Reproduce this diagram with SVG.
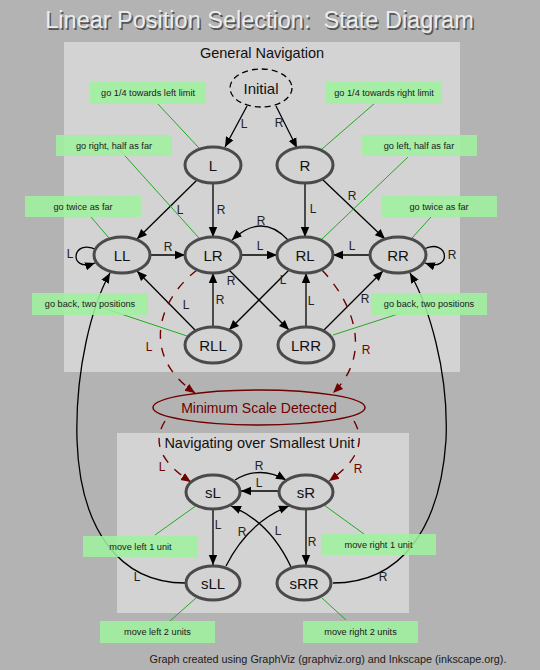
<svg xmlns="http://www.w3.org/2000/svg" width="540" height="670" viewBox="0 0 540 670">
<defs>
<marker id="ab" viewBox="0 0 10 10" refX="10" refY="5" markerWidth="10" markerHeight="10" markerUnits="userSpaceOnUse" orient="auto"><path d="M0,0.8 L10,5 L0,9.2 z" fill="#000"/></marker>
<marker id="ar" viewBox="0 0 10 10" refX="10" refY="5" markerWidth="10" markerHeight="10" markerUnits="userSpaceOnUse" orient="auto"><path d="M0,0.8 L10,5 L0,9.2 z" fill="#6e0000"/></marker>
<style>
.t{font-family:"Liberation Sans",Arial,sans-serif}
.edge{fill:none;stroke:#000;stroke-width:1.3;marker-end:url(#ab)}
.red{fill:none;stroke:#6e0000;stroke-width:1.4;stroke-dasharray:9,9;marker-end:url(#ar)}
.gl{stroke:#22aa22;stroke-width:1;fill:none}
.node ellipse{fill:#d3d3d3;stroke:#4a4a4a;stroke-width:3}
.nl{font-family:"Liberation Sans",Arial,sans-serif;font-size:15px;fill:#111;text-anchor:middle}
.el{font-family:"Liberation Sans",Arial,sans-serif;font-size:12px;fill:#222;text-anchor:middle}
.rl{font-family:"Liberation Sans",Arial,sans-serif;font-size:12px;fill:#6e0000;text-anchor:middle}
.box rect{fill:#9ff09f;fill-opacity:0.88}
.box text{font-family:"Liberation Sans",Arial,sans-serif;font-size:9.2px;fill:#1a1a1a;text-anchor:middle}
.pt{font-family:"Liberation Sans",Arial,sans-serif;font-size:14.5px;fill:#111;text-anchor:middle}
.ttl{font-family:"Liberation Sans",Arial,sans-serif;font-size:23.5px;text-anchor:middle}
</style>
</defs>
<rect x="0" y="0" width="540" height="670" fill="#b3b3b3"/>
<g id="title">
<text class="ttl" x="261" y="29.5" fill="#555" xml:space="preserve">Linear Position Selection:  State Diagram</text>
<text class="ttl" x="259.5" y="28" fill="#ececec" xml:space="preserve">Linear Position Selection:  State Diagram</text>
</g>
<g id="panel-general">
<rect x="64" y="42" width="396" height="330" fill="#d3d3d3"/>
<text class="pt" x="262" y="58">General Navigation</text>
</g>
<g id="panel-smallest">
<rect x="117" y="433" width="292" height="180" fill="#d3d3d3"/>
<text class="pt" x="259.5" y="448">Navigating over Smallest Unit</text>
</g>

<g id="connectors">
<path class="edge" d="M247,106 L225,147"/>
<text class="el" x="244" y="128">L</text>
<path class="edge" d="M276,106 L297,148"/>
<text class="el" x="279" y="127">R</text>
<path class="edge" d="M197,180 L137,239"/>
<text class="el" x="180" y="214">L</text>
<path class="edge" d="M213,183 L213,237"/>
<text class="el" x="221" y="214">R</text>
<path class="edge" d="M305,183 L305,237"/>
<text class="el" x="313" y="213">L</text>
<path class="edge" d="M322,179 L385,239"/>
<text class="el" x="352" y="200">R</text>
<path class="edge" d="M97,250 C72,237 67,273 95,263"/>
<text class="el" x="70" y="258">L</text>
<path class="edge" d="M424,249 C449,237 453,273 425,263"/>
<text class="el" x="452" y="259">R</text>
<path class="edge" d="M150,255 L185,255"/>
<text class="el" x="168" y="251">R</text>
<path class="edge" d="M241,255 L277,255"/>
<text class="el" x="260" y="250">L</text>
<path class="edge" d="M288,240 Q262,212 232,240"/>
<text class="el" x="261" y="225">R</text>
<path class="edge" d="M370,255 L333,255"/>
<text class="el" x="352" y="250">L</text>
<path class="edge" d="M229,270 L289,330"/>
<text class="el" x="231" y="285">R</text>
<path class="edge" d="M289,270 L229,330"/>
<text class="el" x="283" y="284">L</text>
<path class="edge" d="M213,327 L213,273"/>
<text class="el" x="220" y="304">R</text>
<path class="edge" d="M196,331 L137,271"/>
<text class="el" x="186" y="309">L</text>
<path class="edge" d="M306,327 L306,273"/>
<text class="el" x="311" y="305">L</text>
<path class="edge" d="M323,331 L383,271"/>
<text class="el" x="365" y="303">R</text>

<path class="red" d="M197,270 C158,300 140,355 195,393"/>
<text class="rl" x="149" y="351">L</text>
<path class="red" d="M322,270 C355,305 372,355 333,393"/>
<text class="rl" x="366" y="354">R</text>
<path class="red" d="M165,421 C150,445 165,465 191,482"/>
<text class="rl" x="162" y="471">L</text>
<path class="red" d="M354,421 C368,445 352,465 329,481"/>
<text class="rl" x="358" y="473">R</text>

<path class="edge" d="M235,480 Q260,465 286,480"/>
<text class="el" x="259" y="470">R</text>
<path class="edge" d="M279,491 L241,491"/>
<text class="el" x="259" y="487">L</text>
<path class="edge" d="M213,510 L213,565"/>
<text class="el" x="218" y="529">L</text>
<path class="edge" d="M306,510 L306,565"/>
<text class="el" x="312" y="546">R</text>
<path class="edge" d="M226,566 Q248,522 289,506"/>
<text class="el" x="242" y="536">R</text>
<path class="edge" d="M291,567 Q270,522 231,506"/>
<text class="el" x="278" y="535">L</text>

<path class="edge" d="M185,583 C120,583 80,530 77,440 C75,370 92,305 110,273"/>
<text class="el" x="137" y="581">L</text>
<path class="edge" d="M333,583 C400,583 440,530 446,440 C449,370 428,305 410,273"/>
<text class="el" x="383" y="581">R</text>
</g>

<g id="annotation-lines">
<path class="gl" d="M157,103 L199,148"/>
<path class="gl" d="M375,103 L322,149"/>
<path class="gl" d="M117,147 L199,238"/>
<path class="gl" d="M408,157 L322,239"/>
<path class="gl" d="M91,217 L109,238"/>
<path class="gl" d="M431,217 L412,238"/>
<path class="gl" d="M100,307 L187,336"/>
<path class="gl" d="M398,314 L333,335"/>
<path class="gl" d="M155,535 L197,505"/>
<path class="gl" d="M364,534 L324,505"/>
<path class="gl" d="M170,621 L196,598"/>
<path class="gl" d="M346,620 L322,598"/>
</g>

<g id="node-initial"><ellipse cx="261" cy="88" rx="31" ry="19" fill="none" stroke="#000" stroke-width="1.3" stroke-dasharray="6,4"/><text class="nl" x="261" y="93.5">Initial</text></g>
<g id="node-L" class="node"><ellipse cx="213" cy="165" rx="28" ry="18"/><text class="nl" x="213" y="170.5">L</text></g>
<g id="node-R" class="node"><ellipse cx="305" cy="165" rx="28" ry="18"/><text class="nl" x="305" y="170.5">R</text></g>
<g id="node-LL" class="node"><ellipse cx="122" cy="255" rx="28" ry="18"/><text class="nl" x="122" y="260.5">LL</text></g>
<g id="node-LR" class="node"><ellipse cx="213" cy="255" rx="28" ry="18"/><text class="nl" x="213" y="260.5">LR</text></g>
<g id="node-RL" class="node"><ellipse cx="305" cy="255" rx="28" ry="18"/><text class="nl" x="305" y="260.5">RL</text></g>
<g id="node-RR" class="node"><ellipse cx="398" cy="255" rx="28" ry="18"/><text class="nl" x="398" y="260.5">RR</text></g>
<g id="node-RLL" class="node"><ellipse cx="213" cy="345" rx="28" ry="18"/><text class="nl" x="213" y="350.5">RLL</text></g>
<g id="node-LRR" class="node"><ellipse cx="306" cy="345" rx="28" ry="18"/><text class="nl" x="306" y="350.5">LRR</text></g>
<g id="node-min"><ellipse cx="259" cy="407.5" rx="106" ry="17.5" fill="none" stroke="#6e0000" stroke-width="1.5"/><text class="t" x="259" y="412.5" font-size="14" fill="#6e0000" text-anchor="middle">Minimum Scale Detected</text></g>
<g id="node-sL" class="node"><ellipse cx="213" cy="492" rx="27" ry="17"/><text class="nl" x="213" y="497.5">sL</text></g>
<g id="node-sR" class="node"><ellipse cx="306" cy="492" rx="27" ry="17"/><text class="nl" x="306" y="497.5">sR</text></g>
<g id="node-sLL" class="node"><ellipse cx="213" cy="583" rx="27" ry="17"/><text class="nl" x="213" y="588.5">sLL</text></g>
<g id="node-sRR" class="node"><ellipse cx="304" cy="583" rx="27" ry="17"/><text class="nl" x="304" y="588.5">sRR</text></g>

<g id="note-1" class="box"><rect x="90" y="82" width="116" height="22"/><text x="148" y="96.3">go 1/4 towards left limit</text></g>
<g id="note-2" class="box"><rect x="326" y="82" width="116" height="22"/><text x="384" y="96.3">go 1/4 towards right limit</text></g>
<g id="note-3" class="box"><rect x="56" y="135" width="116" height="21"/><text x="114" y="148.8">go right, half as far</text></g>
<g id="note-4" class="box"><rect x="362" y="135" width="115" height="21"/><text x="419" y="148.8">go left, half as far</text></g>
<g id="note-5" class="box"><rect x="25" y="196" width="116" height="21"/><text x="83" y="209.8">go twice as far</text></g>
<g id="note-6" class="box"><rect x="382" y="196" width="115" height="21"/><text x="439" y="209.8">go twice as far</text></g>
<g id="note-7" class="box"><rect x="32" y="293" width="116" height="22"/><text x="90" y="306.8">go back, two positions</text></g>
<g id="note-8" class="box"><rect x="371" y="293" width="116" height="22"/><text x="429" y="306.8">go back, two positions</text></g>
<g id="note-9" class="box"><rect x="83" y="536" width="115" height="21"/><text x="140.5" y="549.5">move left 1 unit</text></g>
<g id="note-10" class="box"><rect x="321" y="534" width="115" height="21"/><text x="378.5" y="547.5">move right 1 unit</text></g>
<g id="note-11" class="box"><rect x="100" y="621" width="115" height="22"/><text x="157.5" y="634.8">move left 2 units</text></g>
<g id="note-12" class="box"><rect x="303" y="621" width="115" height="22"/><text x="360.5" y="634.8">move right 2 units</text></g>

<text id="footer" class="t" x="328" y="663" font-size="10.8" fill="#1a1a1a" text-anchor="middle">Graph created using GraphViz (graphviz.org) and Inkscape (inkscape.org).</text>
</svg>
